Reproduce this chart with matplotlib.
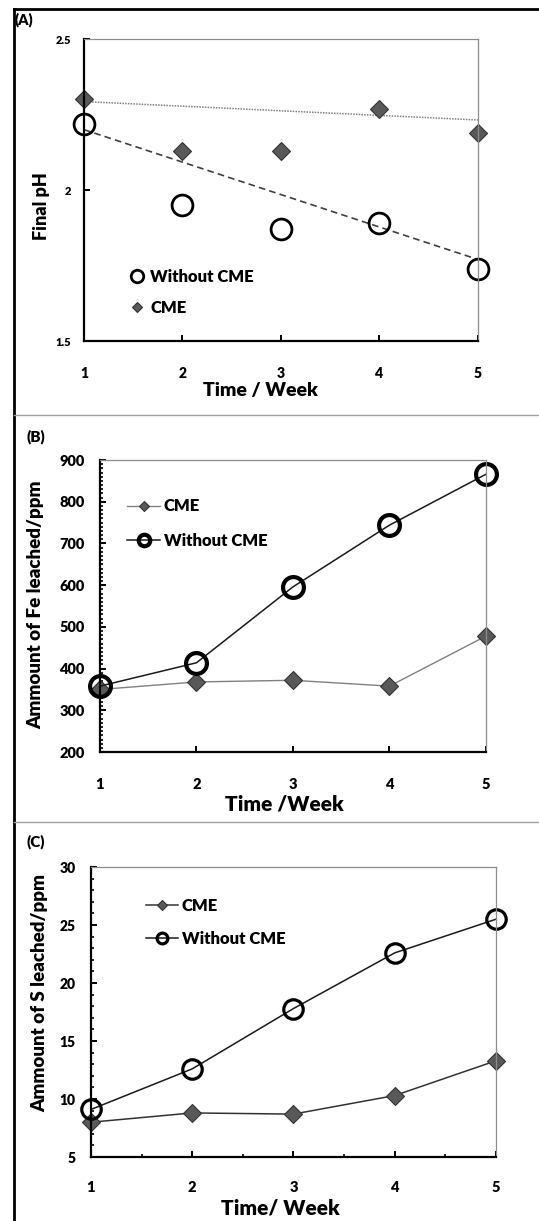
import matplotlib
matplotlib.use('Agg')
import matplotlib.pyplot as plt
from matplotlib.lines import Line2D
from matplotlib.ticker import MultipleLocator
from matplotlib import font_manager

# buscar una fuente con negrita disponible
familia = 'DejaVu Sans'
for f in ['Lato', 'Open Sans', 'Noto Sans', 'Liberation Sans']:
    negritas = [x for x in font_manager.fontManager.ttflist
                if x.name == f and x.weight in (700, 'bold')]
    if negritas:
        familia = f
        break

plt.rcParams['font.family'] = [familia, 'DejaVu Sans']
peso = 'heavy'
plt.rcParams['font.weight'] = peso

# datos
semanas = [1, 2, 3, 4, 5]

# (A) pH final
ph_sin_cme = [2.22, 1.95, 1.87, 1.89, 1.74]
ph_cme = [2.30, 2.13, 2.13, 2.27, 2.19]
tendencia_x = [1, 5]
tendencia_sin_cme = [2.20, 1.77]
tendencia_cme = [2.293, 2.232]

# (B) Fe lixiviado
fe_cme = [350, 368, 372, 358, 478]
fe_sin_cme = [358, 414, 596, 744, 866]

# (C) S lixiviado
s_cme = [8.0, 8.8, 8.7, 10.3, 13.3]
s_sin_cme = [9.1, 12.6, 17.8, 22.6, 25.5]

gris = '#595959'

fig = plt.figure(figsize=(5.39, 12.21), dpi=100)


def estilo_ejes(ax):
    for lado in ['left', 'bottom']:
        ax.spines[lado].set_linewidth(1.6)
        ax.spines[lado].set_color('black')
    for lado in ['top', 'right']:
        ax.spines[lado].set_linewidth(0.9)
        ax.spines[lado].set_color('#8c8c8c')
    ax.tick_params(which='major', direction='in', length=4, width=1.4,
                   top=False, right=False)
    ax.tick_params(which='minor', direction='in', length=2.5, width=1.2,
                   top=False, right=False)
    ax.set_xlim(1, 5)
    ax.set_xticks(semanas)


# ---------- (A) ----------
axA = fig.add_axes([0.1558, 0.7207, 0.731, 0.2473])
estilo_ejes(axA)
axA.plot(tendencia_x, tendencia_cme, color='#808080', lw=1.1, ls=(0, (1, 0.8)))
axA.plot(tendencia_x, tendencia_sin_cme, color='#404040', lw=1.2, ls=(0, (4, 2.5)))
axA.plot(semanas, ph_sin_cme, 'o', ls='none', ms=15, mfc='none', mec='black',
         mew=2, label='Without CME', clip_on=False)
axA.plot(semanas, ph_cme, 'D', ls='none', ms=9, mfc=gris, mec='#333333',
         mew=0.8, label='CME', clip_on=False)
axA.set_ylim(1.5, 2.5)
axA.set_yticks([1.5, 2, 2.5])
axA.set_yticklabels(['1.5', '2', '2.5'])
axA.tick_params(axis='y', labelsize=8, pad=9)
axA.tick_params(axis='x', labelsize=10, pad=19)
axA.set_xlabel('Time / Week', fontsize=14, fontweight=peso, va='center')
axA.xaxis.set_label_coords(0.447, -0.165)
axA.set_ylabel('Final pH', fontsize=13, fontweight=peso, va='center')
axA.yaxis.set_label_coords(-0.109, 0.447)
axA.legend(loc='center left', bbox_to_anchor=(0.113, 0.162), frameon=False,
           fontsize=12, handlelength=1, handletextpad=0.3, borderpad=0,
           borderaxespad=0, labelspacing=0.9, markerscale=0.6)

# ---------- (B) ----------
axB = fig.add_axes([0.1855, 0.3841, 0.7161, 0.2391])
estilo_ejes(axB)
axB.plot(semanas, fe_cme, color='#808080', lw=1, marker='D', ms=9, mfc=gris,
         mec='#333333', mew=0.8, label='CME', clip_on=False)
axB.plot(semanas, fe_sin_cme, color='#1a1a1a', lw=1.1, marker='o', ms=15,
         mfc='none', mec='black', mew=3, label='Without CME', clip_on=False)
axB.set_ylim(200, 900)
axB.yaxis.set_major_locator(MultipleLocator(100))
axB.yaxis.set_minor_locator(MultipleLocator(10))
axB.tick_params(axis='y', labelsize=10.5, pad=11)
axB.tick_params(axis='x', labelsize=10.5, pad=19)
axB.set_xlabel('Time /Week', fontsize=15, fontweight=peso, va='center')
axB.xaxis.set_label_coords(0.479, -0.178)
axB.set_ylabel('Ammount of Fe leached/ppm', fontsize=13.5, fontweight=peso,
               va='center')
axB.yaxis.set_label_coords(-0.166, 0.503)
axB.legend(loc='center left', bbox_to_anchor=(0.07, 0.7825), frameon=False,
           fontsize=12, handlelength=2.0, handletextpad=0.2, borderpad=0,
           borderaxespad=0, labelspacing=1.1, markerscale=0.55)

# ---------- (C) ----------
axC = fig.add_axes([0.1688, 0.0524, 0.7514, 0.2375])
estilo_ejes(axC)
axC.plot(semanas, s_cme, color='#333333', lw=1.1, marker='D', ms=9, mfc=gris,
         mec='#333333', mew=0.8, label='CME', clip_on=False)
axC.plot(semanas, s_sin_cme, color='#1a1a1a', lw=1.1, marker='o', ms=14,
         mfc='none', mec='black', mew=2.3, label='Without CME', clip_on=False)
axC.set_ylim(5, 30)
axC.yaxis.set_major_locator(MultipleLocator(5))
axC.yaxis.set_minor_locator(MultipleLocator(1))
axC.xaxis.set_minor_locator(MultipleLocator(0.5))
axC.tick_params(axis='y', labelsize=10, pad=11)
axC.tick_params(axis='x', labelsize=10.5, pad=17)
axC.set_xlabel('Time/ Week', fontsize=15, fontweight=peso, va='center')
axC.xaxis.set_label_coords(0.467, -0.176)
axC.set_ylabel('Ammount of S leached/ppm', fontsize=13.5, fontweight=peso,
               va='center')
axC.yaxis.set_label_coords(-0.126, 0.566)
axC.legend(loc='center left', bbox_to_anchor=(0.136, 0.8086), frameon=False,
           fontsize=12, handlelength=1.9, handletextpad=0.25, borderpad=0,
           borderaxespad=0, labelspacing=1.0, markerscale=0.55)

# etiquetas de panel
fig.text(0.028, 0.9835, '(A)', fontsize=10.5, fontweight=peso, va='center')
fig.text(0.050, 0.642, '(B)', fontsize=11, fontweight=peso, va='center')
fig.text(0.050, 0.3104, '(C)', fontsize=11, fontweight=peso, va='center')

# marco de la figura
fig.add_artist(Line2D([0.026, 1], [0.9926, 0.9926], transform=fig.transFigure,
                      color='black', lw=2))
fig.add_artist(Line2D([0.026, 0.026], [0, 0.9926], transform=fig.transFigure,
                      color='black', lw=2))
fig.add_artist(Line2D([0.026, 1], [0.6601, 0.6601], transform=fig.transFigure,
                      color='#a0a0a0', lw=1))
fig.add_artist(Line2D([0.026, 1], [0.3268, 0.3268], transform=fig.transFigure,
                      color='#a0a0a0', lw=1))

fig.savefig('out.png', dpi=100)
